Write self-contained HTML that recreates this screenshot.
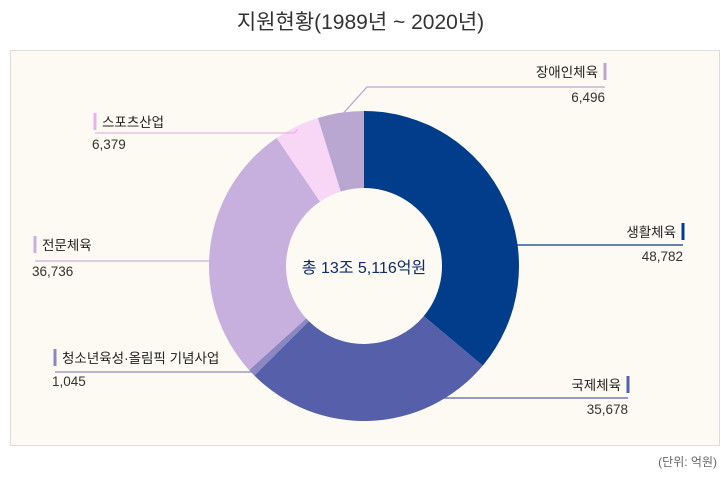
<!DOCTYPE html>
<html><head><meta charset="utf-8">
<style>
body{margin:0;width:721px;height:477px;background:#fff;font-family:"Liberation Sans","Noto Sans CJK KR",sans-serif;overflow:hidden;position:relative}
#title{position:absolute;left:0;width:721px;top:6px;text-align:center;font-size:21px;color:#333}
#panel{position:absolute;left:10px;top:50px;width:708px;height:394px;background:#fcfaf2;border:1px solid #ddd}
#unit{position:absolute;right:4px;top:453px;font-size:12px;color:#666}
svg{position:absolute;left:0;top:0}
</style></head><body>
<div id="title">지원현황(1989년 ~ 2020년)</div>
<div id="panel"></div>
<svg id="chart" width="721" height="477"></svg>
<div id="unit">(단위: 억원)</div>
<script>
const categories=["생활체육","국제체육","청소년육성·올림픽 기념사업","전문체육","스포츠산업","장애인체육"];
const values=[48782,35678,1045,36736,6379,6496];
const valueLabels=["48,782","35,678","1,045","36,736","6,379","6,496"];
const colors=["#013d8b","#5660aa","#8c86c2","#c8b0de","#f7d6f6","#b9a7d1"];
const centerLabel="총 13조 5,116억원";
const NS="http://www.w3.org/2000/svg";
const svg=document.getElementById('chart');
const cx=364,cy=266,R=155,r=78;
const total=values.reduce((a,b)=>a+b,0);
function pt(a,rad){return [cx+rad*Math.sin(a),cy-rad*Math.cos(a)];}
function mk(t,attrs){const e=document.createElementNS(NS,t);for(const k in attrs)e.setAttribute(k,attrs[k]);svg.appendChild(e);return e;}
let acc=0;const mids=[];
values.forEach((v,i)=>{
  const a0=acc/total*2*Math.PI;acc+=v;const a1=acc/total*2*Math.PI;
  mids.push((a0+a1)/2);
  const large=(a1-a0)>Math.PI?1:0;
  const p0=pt(a0,R),p1=pt(a1,R),q1=pt(a1,r),q0=pt(a0,r);
  const p=mk('path',{d:`M${p0[0]},${p0[1]}A${R},${R} 0 ${large} 1 ${p1[0]},${p1[1]}L${q1[0]},${q1[1]}A${r},${r} 0 ${large} 0 ${q0[0]},${q0[1]}Z`,fill:colors[i]});
  
  
});
// label layout: [side, barX, lineY, textY, valueY, mode]
const layout=[
 ['r',683,245,237,257,'h'],
 ['r',628,398,390,410,'h'],
 ['l',55,372,363,382,'h'],
 ['l',35,261,250,272,'h'],
 ['l',95,133,127,145,'d'],
 ['r',605,87,77,98,'d']];
layout.forEach((L,i)=>{
  const [side,bx,ly,ty,vy,mode]=L;
  let d;
  if(mode==='h'){
    const dx=Math.sqrt(Math.max(0,R*R-(ly-cy)*(ly-cy)));
    const ex=side==='r'?cx+dx-2:cx-dx+2;
    d=`M${ex},${ly}L${bx},${ly}`;
  } else {
    const e=pt(mids[i],R-3);
    const kx=side==='r'?e[0]+Math.abs(e[1]-ly)*0.9:e[0]-Math.abs(e[1]-ly)*0.9;
    d=`M${e[0]},${e[1]}L${kx},${ly}L${bx},${ly}`;
  }
  const lc=colors[i]==='#f7d6f6'?'#e8b4e8':colors[i];
  const ln=mk('path',{d:d,stroke:lc,'stroke-width':1.3,fill:'none'});
  
  
  const bar=mk('rect',{x:bx-1.5,y:ty-14,width:3,height:17,fill:lc});
  
  
  const t=mk('text',{x:side==='r'?bx-7:bx+7,y:ty,'font-size':13.5,fill:'#222','text-anchor':side==='r'?'end':'start'});
  t.textContent=categories[i];
  
  
  const vt=mk('text',{x:side==='r'?bx:bx-3,y:vy+4,'font-size':13.5,fill:'#333','text-anchor':side==='r'?'end':'start'});
  vt.textContent=valueLabels[i];
  
  
});
const ct=mk('text',{x:cx,y:cy+7,'font-size':16,fill:'#0d2a6b','text-anchor':'middle'});
ct.textContent=centerLabel;


</script>
</body></html>
